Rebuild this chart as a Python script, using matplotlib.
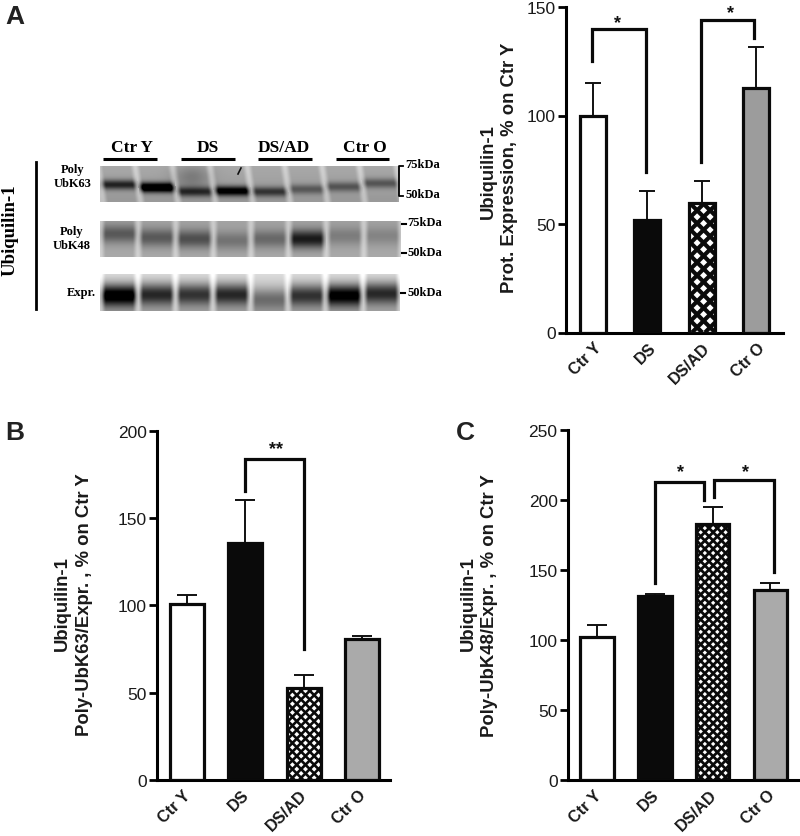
import matplotlib
matplotlib.use('Agg')
import matplotlib.pyplot as plt
import numpy as np
from matplotlib.collections import LineCollection
from matplotlib.transforms import IdentityTransform, ScaledTranslation

plt.rcParams['font.family'] = ['Liberation Sans', 'DejaVu Sans']

W, H = 800, 837

groups = ['Ctr Y', 'DS', 'DS/AD', 'Ctr O']

a_vals = [100, 52, 59.5, 112.5]
a_tops = [115, 65, 70, 131.5]
b_vals = [100.5, 135.5, 52.5, 81]
b_tops = [106, 160.5, 60, 82.5]
c_vals = [102, 131.5, 183, 135.5]
c_tops = [111, 133, 195, 141]

# lane band strength and band height (fraction of blot height)
k63_bands = [0.5, 0.85, 0.45, 0.7, 0.42, 0.28, 0.3, 0.3]
k63_pos = [0.52, 0.6, 0.72, 0.7, 0.72, 0.65, 0.58, 0.48]
k48_bands = [0.3, 0.3, 0.34, 0.2, 0.24, 0.55, 0.16, 0.13]
k48_pos = [0.36, 0.46, 0.5, 0.55, 0.5, 0.5, 0.42, 0.42]
expr_bands = [0.85, 0.6, 0.55, 0.6, 0.3, 0.55, 0.8, 0.6]
expr_pos = [0.58, 0.55, 0.55, 0.55, 0.68, 0.58, 0.58, 0.52]


def px_axes(fig, left, right, top, bottom):
    return fig.add_axes([left / W, 1 - bottom / H, (right - left) / W, (bottom - top) / H])


def cross_lines(ax, bar, spacing, lw):
    ax.figure.canvas.draw()
    x0, y0 = ax.transData.transform((bar.get_x(), 0))
    x1, y1 = ax.transData.transform((bar.get_x() + bar.get_width(), bar.get_height()))
    segs = []
    h = y1 - y0
    for off in np.arange(-h - spacing, x1 - x0 + h + spacing, spacing):
        segs.append([(x0 + off, y0), (x0 + off + h, y1)])
        segs.append([(x0 + off, y1), (x0 + off + h, y0)])
    lc = LineCollection(segs, colors='#0a0a0a', linewidths=lw, transform=IdentityTransform(), zorder=2.5)
    ax.add_collection(lc, autolim=False)
    lc.set_clip_path(bar)


def bar_panel(fig, box, xlim, ylim, yticks, vals, tops, width, spacing, hatch_lw, gray, cap, label_dx):
    ax = px_axes(fig, *box)
    xs = np.arange(len(vals))
    errs = np.array(tops) - np.array(vals)
    ax.errorbar(xs, vals, yerr=[np.zeros(4), errs], fmt='none', ecolor='#111111',
                elinewidth=1.4, capsize=cap, capthick=1.4, zorder=1)
    bars = ax.bar(xs, vals, width, color=['white', '#0a0a0a', 'white', gray], edgecolor='none', zorder=2)
    cross_lines(ax, bars[2], spacing, hatch_lw)
    ax.bar(xs, vals, width, color='none', edgecolor='#0a0a0a', linewidth=2.3, zorder=3)
    ax.set_xlim(*xlim)
    ax.set_ylim(*ylim)
    ax.set_yticks(yticks)
    ax.set_xticks(xs)
    ax.set_xticklabels(groups, rotation=45, ha='right', rotation_mode='anchor',
                       fontsize=11.7, fontweight='bold', color='#1a1a1a')
    ax.tick_params(axis='x', length=0, pad=5)
    shift = ScaledTranslation(label_dx / 100, 0, fig.dpi_scale_trans)
    for lab in ax.get_xticklabels():
        lab.set_transform(lab.get_transform() + shift)
    ax.tick_params(axis='y', length=5.5, width=2, labelsize=12.5, pad=2, labelcolor='#1a1a1a')
    for s in ['top', 'right']:
        ax.spines[s].set_visible(False)
    for s in ['left', 'bottom']:
        ax.spines[s].set_linewidth(2.2)
    return ax


def bracket(ax, x0, x1, top, y0, y1, lw=2.3):
    ax.plot([x0, x0, x1, x1], [y0, top, top, y1], color='#0a0a0a', lw=lw,
            solid_joinstyle='miter', zorder=4, clip_on=False)


def star(ax, x, y, s):
    ax.text(x, y, s, ha='center', va='center', fontsize=13, fontweight='bold', color='#111111')


def blot(ov, x0, x1, y0, y1, bands, pos, bg_top, bg_bot, thick, slant=0.0, cloud=False):
    w = int(x1 - x0)
    h = int(y1 - y0)
    xx, yy = np.meshgrid(np.linspace(0, 8, w, endpoint=False), np.linspace(0, 1, h))
    xs = np.clip(xx - slant * (yy - 0.5), 0, 7.999)
    lane = xs.astype(int)
    frac = xs - lane
    across = np.clip(np.minimum(frac, 1 - frac) / 0.16, 0, 1)
    across = across * across * (3 - 2 * across)
    s = np.array(bands)[lane]
    p = np.array(pos)[lane]
    img = bg_top + (bg_bot - bg_top) * yy
    img = img + 0.16 * (1 - across)
    img = img - s * np.exp(-((yy - p) / thick) ** 2) * (0.25 + 0.75 * across)
    if cloud:
        img -= 0.16 * np.exp(-((xx - 2.45) / 0.5) ** 2 - ((yy - 0.3) / 0.35) ** 2)
    ov.imshow(np.clip(img, 0, 1), cmap='gray', vmin=0, vmax=1, extent=[x0, x1, y1, y0],
              aspect='auto', interpolation='bilinear', zorder=1)


fig = plt.figure(figsize=(W / 100, H / 100), dpi=100)

ax_a = bar_panel(fig, (566, 783, 8, 333.5), (-0.497, 3.5), (0, 150), [0, 50, 100, 150],
                 a_vals, a_tops, 0.48, 13, 3, '#9c9c9c', 5.5, 1)
bracket(ax_a, -0.02, 0.98, 140, 125, 74)
bracket(ax_a, 1.99, 2.97, 144, 78.5, 135.7)
star(ax_a, 0.45, 143, '*')
star(ax_a, 2.53, 147.5, '*')

ax_b = bar_panel(fig, (157, 390, 431.7, 781), (-0.515, 3.48), (0, 200), [0, 50, 100, 150, 200],
                 b_vals, b_tops, 0.58, 8.7, 1.9, '#aaaaaa', 7.5, -4)
bracket(ax_b, 1, 2, 184, 165.5, 75)
star(ax_b, 1.53, 190, '**')

ax_c = bar_panel(fig, (568, 798, 431, 781), (-0.503, 3.48), (0, 250), [0, 50, 100, 150, 200, 250],
                 c_vals, c_tops, 0.58, 8.3, 2, '#aaaaaa', 7.5, -3)
bracket(ax_c, 1, 1.85, 213, 141, 200)
bracket(ax_c, 2.02, 3.07, 214, 202, 148.5)
star(ax_c, 1.45, 220, '*')
star(ax_c, 2.57, 220, '*')

# overlay in pixel coordinates for the blots and free text
ov = fig.add_axes([0, 0, 1, 1], zorder=-1)
blot(ov, 100, 399, 167, 203, k63_bands, k63_pos, 0.66, 0.6, 0.14, slant=0.14, cloud=True)
blot(ov, 100, 401, 222, 258, k48_bands, k48_pos, 0.64, 0.66, 0.26)
blot(ov, 100, 400, 275, 312, expr_bands, expr_pos, 0.86, 0.66, 0.3)
ov.set_xlim(0, W)
ov.set_ylim(H, 0)
ov.axis('off')
ov.plot([238, 241], [175, 169], color='#111111', lw=1.2)

serif = 'Liberation Serif'
for name, xa, xb, xt in zip(groups, [103, 181, 258, 336], [157, 235, 312, 389], [132, 208, 284, 365]):
    ov.plot([xa, xb], [160, 160], color='black', lw=2.2, solid_capstyle='butt')
    ov.text(xt, 148, name, ha='center', va='center', family=serif, fontweight='bold', fontsize=12.5)

ov.plot([36, 36], [163, 310], color='black', lw=2)
ov.text(10, 230, 'Ubiquilin-1', rotation=90, ha='center', va='center', family=serif,
        fontweight='bold', fontsize=13.5)
ov.text(73, 177, 'Poly\nUbK63', ha='center', va='center', family=serif, fontweight='bold',
        fontsize=9, linespacing=1.3)
ov.text(72, 239, 'Poly\nUbK48', ha='center', va='center', family=serif, fontweight='bold',
        fontsize=9, linespacing=1.3)
ov.text(81, 293, 'Expr.', ha='center', va='center', family=serif, fontweight='bold', fontsize=9)

ov.plot([403, 399, 399, 403], [167, 167, 197, 197], color='black', lw=1.3)
ov.plot([402, 406], [225, 225], color='black', lw=1.5)
ov.plot([402, 406], [254, 254], color='black', lw=1.5)
ov.plot([401, 405], [294, 294], color='black', lw=1.5)
for x, y, s in [(405, 165, '75kDa'), (405, 195, '50kDa'), (407, 223, '75kDa'),
                (407, 253, '50kDa'), (407, 293, '50kDa')]:
    ov.text(x, y, s, ha='left', va='center', family=serif, fontweight='bold', fontsize=9)

for x, y, s in [(488, 172, 'Ubiquilin-1'), (509, 168, 'Prot. Expression, % on Ctr Y'),
                (62, 604, 'Ubiquilin-1'), (85, 605, 'Poly-UbK63/Expr. , % on Ctr Y'),
                (468, 604, 'Ubiquilin-1'), (490, 606, 'Poly-UbK48/Expr. , % on Ctr Y')]:
    ov.text(x, y, s, rotation=90, ha='center', va='center', fontweight='bold', fontsize=13.3,
            color='#1a1a1a')

for x, y, s in [(15, 17, 'A'), (15, 433, 'B'), (465, 433, 'C')]:
    ov.text(x, y, s, ha='center', va='center', fontweight='bold', fontsize=19, color='#222222')

fig.savefig('out.png', dpi=100)
